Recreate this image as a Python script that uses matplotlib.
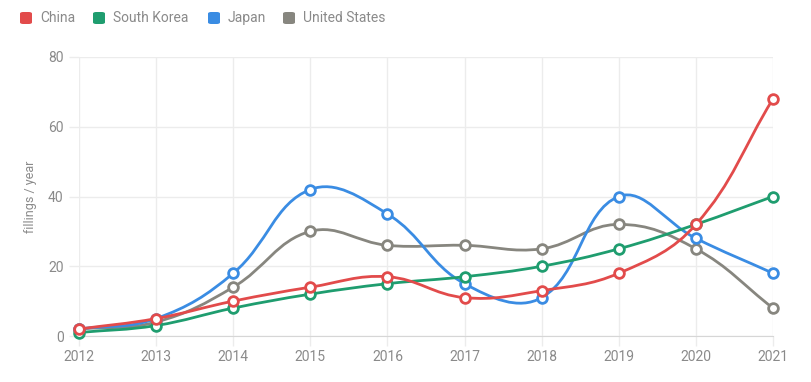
import numpy as np
import matplotlib.pyplot as plt
from matplotlib.path import Path
from matplotlib.patches import PathPatch, FancyBboxPatch

plt.rcParams['font.family'] = ['Roboto', 'DejaVu Sans']

years = [2012, 2013, 2014, 2015, 2016, 2017, 2018, 2019, 2020, 2021]
china = [2, 5, 10, 14, 17, 11, 13, 18, 32, 68]
south_korea = [1, 3, 8, 12, 15, 17, 20, 25, 32, 40]
japan = [2, 5, 18, 42, 35, 15, 11, 40, 28, 18]
united_states = [2, 4, 14, 30, 26, 26, 25, 32, 25, 8]

series = [
    ('China', china, '#e24b4b'),
    ('South Korea', south_korea, '#1f9d6f'),
    ('Japan', japan, '#3a8ce3'),
    ('United States', united_states, '#87867f'),
]

fig = plt.figure(figsize=(8.11, 3.82), dpi=100)
ax = fig.add_axes([79 / 811, 46 / 382, 694 / 811, 279 / 382])
ax.set_xlim(2012, 2021)
ax.set_ylim(0, 80)

# pixel scale, used for chart.js-like bezier tension
sx = 694 / 9.0
sy = 279 / 80.0


def bezier_path(xs, ys, t=0.4):
    px = np.array(xs, float) * sx
    py = np.array(ys, float) * sy
    n = len(px)
    cps = []
    for i in range(n):
        p0 = (px[max(i - 1, 0)], py[max(i - 1, 0)])
        p1 = (px[i], py[i])
        p2 = (px[min(i + 1, n - 1)], py[min(i + 1, n - 1)])
        d01 = np.hypot(p1[0] - p0[0], p1[1] - p0[1])
        d12 = np.hypot(p2[0] - p1[0], p2[1] - p1[1])
        tot = d01 + d12
        s01 = d01 / tot if tot else 0
        s12 = d12 / tot if tot else 0
        fa, fb = t * s01, t * s12
        prev = (p1[0] - fa * (p2[0] - p0[0]), p1[1] - fa * (p2[1] - p0[1]))
        nxt = (p1[0] + fb * (p2[0] - p0[0]), p1[1] + fb * (p2[1] - p0[1]))
        cps.append((prev, nxt))
    verts = [(px[0], py[0])]
    codes = [Path.MOVETO]
    for i in range(1, n):
        verts += [cps[i - 1][1], cps[i][0], (px[i], py[i])]
        codes += [Path.CURVE4] * 3
    verts = [(x / sx, max(min(y / sy, 80), 0)) for x, y in verts]
    return Path(verts, codes)


# first dataset drawn on top, like chart.js
for k, (name, vals, col) in enumerate(series):
    z = 10 - 2 * k
    ax.add_patch(PathPatch(bezier_path(years, vals), fill=False, edgecolor=col,
                           lw=2, zorder=z, capstyle='round', joinstyle='round'))
    ax.plot(years, vals, 'o', ms=7, mfc='white', mec=col, mew=2, zorder=z + 1,
            clip_on=False)

ax.set_xticks(years)
ax.set_yticks([0, 20, 40, 60, 80])
ax.grid(True, color='#ececec', lw=1, zorder=0)
for s in ['top', 'right', 'left']:
    ax.spines[s].set_visible(False)
ax.spines['bottom'].set_color('#d6d6d6')
ax.tick_params(colors='#ececec', labelcolor='#8a8a8a', labelsize=10,
               length=7, width=1)
ax.tick_params(axis='y', pad=4)
ax.tick_params(axis='x', pad=3)
ax.set_ylabel('fillings / year', color='#8a8a8a', fontsize=9, labelpad=8)

# legend at top
items = [(20, 'China'), (93, 'South Korea'), (208, 'Japan'), (283, 'United States')]
for (x0, name), (_, _, col) in zip(items, series):
    fig.patches.append(FancyBboxPatch((x0 / 811, (382 - 24) / 382), 12 / 811, 12 / 382,
                                      boxstyle='round,pad=0,rounding_size=0.004',
                                      transform=fig.transFigure, fc=col, ec='none'))
    fig.text((x0 + 20) / 811, (382 - 18) / 382, name, color='#8a8a8a', fontsize=10,
             va='center', ha='left')

fig.savefig('out.png', dpi=100)
